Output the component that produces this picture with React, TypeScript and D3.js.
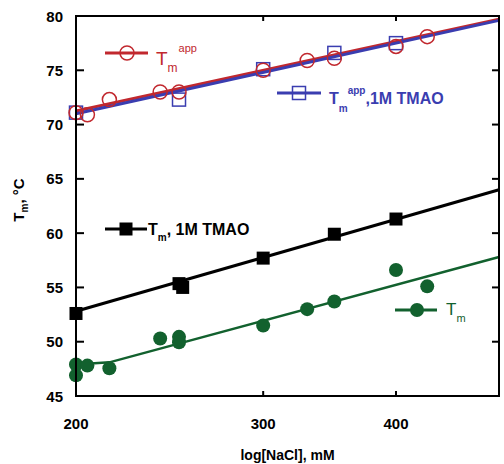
import React from "react";
import * as d3 from "d3";

// Tm app (no TMAO), open red circles
const appConc = [200, 205, 215, 240, 250, 300, 330, 350, 400, 428];
const appTm = [71.1, 70.9, 72.3, 73.0, 73.0, 75.0, 75.9, 76.1, 77.2, 78.1];
// Tm app, 1M TMAO, open blue squares
const appTmaoConc = [200, 250, 300, 350, 400];
const appTmaoTm = [71.1, 72.3, 75.1, 76.6, 77.5];
// Tm, 1M TMAO, filled black squares
const tmaoConc = [200, 250, 252, 300, 350, 400];
const tmaoTm = [52.6, 55.35, 55.0, 57.7, 59.9, 61.3];
// Tm, filled green circles
const tmConc = [200, 200, 205, 215, 240, 250, 250, 300, 330, 350, 400, 428];
const tmTm = [47.9, 46.9, 47.8, 47.55, 50.3, 50.45, 49.95, 51.5, 53.0, 53.7, 56.6, 55.1];

// fitted lines [conc, Tm]
const appFit: [number, number][] = [[200, 71.25], [500, 79.7]];
const appTmaoFit: [number, number][] = [[200, 71.0], [500, 79.6]];
const tmaoFit: [number, number][] = [[200, 52.8], [500, 64.0]];
const tmFit: [number, number][] = [[200, 47.9], [215, 48.1], [500, 57.8]];

const xTicks = [200, 300, 400];
const yTicks = [45, 50, 55, 60, 65, 70, 75, 80];

const RED = "#c1282e";
const BLUE = "#3a3db0";
const GREEN = "#12612e";
const FONT = "'Liberation Sans', Arial, sans-serif";

export default function App() {
  const width = 504;
  const height = 464;
  const left = 76, right = 499, top = 16, bottom = 396;

  const x = d3.scaleLog().domain([200, 500]).range([left, right]);
  const y = d3.scaleLinear().domain([45, 80]).range([bottom, top]);
  const line = d3
    .line<[number, number]>()
    .x((d) => x(d[0]))
    .y((d) => y(d[1]));

  const circle = (cx: number, cy: number, color: string, filled: boolean, key: string) => (
    <circle key={key} cx={cx} cy={cy} r={7}
      fill={filled ? color : "none"} stroke={color} strokeWidth={filled ? 0 : 1.5} />
  );
  const square = (cx: number, cy: number, color: string, filled: boolean, key: string) => (
    <rect key={key} x={cx - 6.5} y={cy - 6.5} width={13} height={13}
      fill={filled ? color : "none"} stroke={color} strokeWidth={filled ? 0 : 1.5} />
  );

  return (
    <svg width={width} height={height} style={{ position: "absolute", left: 0, top: 0 }}
      fontFamily={FONT}>
      <rect width={width} height={height} fill="white" />

      {/* fits */}
      <path d={line(appFit) || ""} fill="none" stroke={RED} strokeWidth={3} />
      <path d={line(appTmaoFit) || ""} fill="none" stroke={BLUE} strokeWidth={3} />
      <path d={line(tmaoFit) || ""} fill="none" stroke="black" strokeWidth={3} />
      <path d={line(tmFit) || ""} fill="none" stroke={GREEN} strokeWidth={2.5} />

      {/* points */}
      {appTmaoConc.map((c, i) => square(x(c), y(appTmaoTm[i]), BLUE, false, "b" + i))}
      {appConc.map((c, i) => circle(x(c), y(appTm[i]), RED, false, "r" + i))}
      {tmaoConc.map((c, i) => square(x(c), y(tmaoTm[i]), "black", true, "k" + i))}
      {tmConc.map((c, i) => circle(x(c), y(tmTm[i]), GREEN, true, "g" + i))}

      {/* frame */}
      <rect x={left} y={top} width={right - left} height={bottom - top}
        fill="none" stroke="black" strokeWidth={2} />
      {yTicks.map((t) => (
        <g key={"y" + t}>
          <line x1={left} x2={left + 8} y1={y(t)} y2={y(t)} stroke="black" strokeWidth={2} />
          <line x1={right - 7} x2={right} y1={y(t)} y2={y(t)} stroke="black" strokeWidth={2} />
          <text x={63} y={y(t) + 5.5} textAnchor="end" fontSize={15} fontWeight="bold">{t}</text>
        </g>
      ))}
      {xTicks.map((t) => (
        <g key={"x" + t}>
          <line x1={x(t)} x2={x(t)} y1={bottom} y2={bottom - 5} stroke="black" strokeWidth={2} />
          <line x1={x(t)} x2={x(t)} y1={top} y2={top + 5} stroke="black" strokeWidth={2} />
          <text x={x(t)} y={429} textAnchor="middle" fontSize={15} fontWeight="bold">{t}</text>
        </g>
      ))}

      <text x={(left + right) / 2} y={460} textAnchor="middle" fontSize={14} fontWeight="bold">
        log[NaCl], mM
      </text>
      <text transform={`translate(24,${(top + bottom) / 2 - 6}) rotate(-90)`} textAnchor="middle"
        fontSize={15} fontWeight="bold">
        T<tspan fontSize={10} dy={4}>m</tspan><tspan dy={-4}>, °C</tspan>
      </text>

      {/* legends */}
      <g>
        <line x1={105} x2={148} y1={53} y2={53} stroke={RED} strokeWidth={3} />
        {circle(127, 53, RED, false, "lr")}
        <text x={156} y={65} fill={RED} fontSize={19}>
          T<tspan fontSize={12} dy={7}>m</tspan><tspan fontSize={11} dx={1} dy={-20}>app</tspan>
        </text>
      </g>
      <g>
        <line x1={277} x2={321} y1={93} y2={93} stroke={BLUE} strokeWidth={3} />
        {square(299, 93, BLUE, false, "lb")}
        <text x={329} y={104} fill={BLUE} fontSize={16} fontWeight="bold">
          T<tspan fontSize={10} dy={8}>m</tspan><tspan fontSize={10} dy={-18}>app</tspan>
          <tspan dy={10}>,1M TMAO</tspan>
        </text>
      </g>
      <g>
        <line x1={105} x2={147} y1={229} y2={229} stroke="black" strokeWidth={3} />
        {square(126, 229, "black", true, "lk")}
        <text x={148} y={235} fontSize={16} fontWeight="bold">
          T<tspan fontSize={10} dy={6}>m</tspan><tspan dy={-6}>, 1M TMAO</tspan>
        </text>
      </g>
      <g>
        <line x1={395} x2={437} y1={310} y2={310} stroke={GREEN} strokeWidth={3} />
        {circle(417, 310, GREEN, true, "lg")}
        <text x={446} y={315} fill={GREEN} fontSize={17}>
          T<tspan fontSize={11} dy={7}>m</tspan>
        </text>
      </g>
    </svg>
  );
}
